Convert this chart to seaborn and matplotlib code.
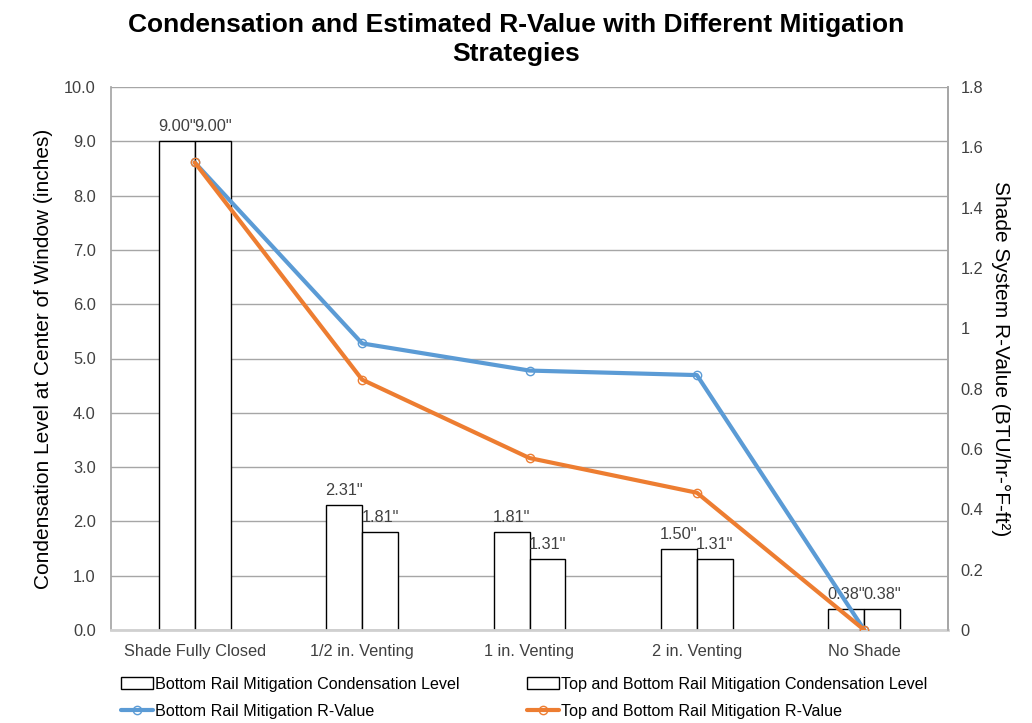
import numpy as np
import pandas as pd
import matplotlib
matplotlib.use("Agg")
import matplotlib.pyplot as plt
import seaborn as sns
from matplotlib.patches import Patch
from matplotlib.lines import Line2D
from matplotlib.ticker import FormatStrFormatter, FuncFormatter

categories = ["Shade Fully Closed", "1/2 in. Venting", "1 in. Venting", "2 in. Venting", "No Shade"]
bottom_cond = [9.00, 2.31, 1.81, 1.50, 0.38]
topbottom_cond = [9.00, 1.81, 1.31, 1.31, 0.38]
bottom_r = [1.55, 0.95, 0.86, 0.845, 0.0]
topbottom_r = [1.55, 0.83, 0.57, 0.455, 0.0]

s_bc = "Bottom Rail Mitigation Condensation Level"
s_tc = "Top and Bottom Rail Mitigation Condensation Level"
s_br = "Bottom Rail Mitigation R-Value"
s_tr = "Top and Bottom Rail Mitigation R-Value"

sns.set_theme(style="white")
plt.rcParams['font.family'] = ['Liberation Sans', 'DejaVu Sans']

blue = "#5B9BD5"
orange = "#ED7D31"
txt = "#404040"

df = pd.DataFrame({
    "cat": categories * 2,
    "series": [s_bc] * len(categories) + [s_tc] * len(categories),
    "value": bottom_cond + topbottom_cond,
})

fig = plt.figure(figsize=(10.32, 7.23), dpi=100)
ax = fig.add_axes([111 / 1032, 1 - 630 / 723, (948 - 111) / 1032, (630 - 87) / 723])

sns.barplot(data=df, x="cat", y="value", hue="series", ax=ax,
            palette=["white", "white"], edgecolor="black", linewidth=1.0,
            width=0.43, gap=0, legend=False, saturation=1)

ax.set_ylim(0, 10)
ax.set_xlim(-0.5, len(categories) - 0.5)
ax.set_yticks(np.arange(0, 10.01, 1.0))
ax.yaxis.set_major_formatter(FormatStrFormatter("%.1f"))
ax.grid(axis="y", color="#A6A6A6", linewidth=1.0)
ax.set_axisbelow(True)
ax.set_xlabel("")
ax.set_ylabel("Condensation Level at Center of Window (inches)", fontsize=15, color="black", labelpad=8)
ax.tick_params(axis="x", labelsize=11.8, colors=txt, length=0, pad=10)
ax.tick_params(axis="y", labelsize=11.8, colors=txt, length=0, pad=11)
for sp in ["top"]:
    ax.spines[sp].set_visible(False)
ax.spines["left"].set_color("#A6A6A6")
ax.spines["right"].set_color("#A6A6A6")
ax.spines["bottom"].set_color("#D0D0D0")
ax.spines["bottom"].set_linewidth(2)

for cont in ax.containers:
    labels = ['{:.2f}"'.format(b.get_height()) for b in cont]
    ax.bar_label(cont, labels=labels, padding=5, fontsize=11.8, color=txt)

ax2 = ax.twinx()
xpos = np.arange(len(categories))
sns.lineplot(x=xpos, y=bottom_r, ax=ax2, color=blue, linewidth=3, marker="o",
             markersize=6, markerfacecolor="none", markeredgecolor=blue, markeredgewidth=1)
sns.lineplot(x=xpos, y=topbottom_r, ax=ax2, color=orange, linewidth=3, marker="o",
             markersize=6, markerfacecolor="none", markeredgecolor=orange, markeredgewidth=1)
ax2.set_ylim(0, 1.8)
ax2.set_yticks(np.arange(0, 1.81, 0.2))
ax2.yaxis.set_major_formatter(FuncFormatter(lambda v, p: "0" if abs(v) < 1e-9 else ("1" if abs(v - 1) < 1e-9 else "%.1f" % v)))
ax2.tick_params(axis="y", labelsize=11.8, colors=txt, length=0, pad=9)
ax2.set_ylabel("Shade System R-Value (BTU/hr-°F-ft²)", fontsize=15, color="black", rotation=270, labelpad=19)
for sp in ["top", "left", "bottom"]:
    ax2.spines[sp].set_visible(False)
ax2.spines["right"].set_color("#A6A6A6")
ax2.grid(False)

fig.suptitle("Condensation and Estimated R-Value with Different Mitigation\nStrategies",
             fontsize=19, fontweight="bold", color="black", y=0.982, linespacing=1.25)

handles = [
    Patch(facecolor="white", edgecolor="black", linewidth=1.0, label=s_bc),
    Line2D([0], [0], color=blue, linewidth=3, marker="o", markersize=6, markerfacecolor="none",
           markeredgecolor=blue, markeredgewidth=1, label=s_br),
    Patch(facecolor="white", edgecolor="black", linewidth=1.0, label=s_tc),
    Line2D([0], [0], color=orange, linewidth=3, marker="o", markersize=6, markerfacecolor="none",
           markeredgecolor=orange, markeredgewidth=1, label=s_tr),
]
fig.legend(handles=handles, ncol=2, loc="lower left", bbox_to_anchor=(108 / 1032, -0.012),
           frameon=False, fontsize=11.6, handlelength=2.0, handletextpad=0.1,
           columnspacing=4.2, labelspacing=0.75, borderpad=0.3, labelcolor="black")

fig.savefig("out.png", dpi=100)
